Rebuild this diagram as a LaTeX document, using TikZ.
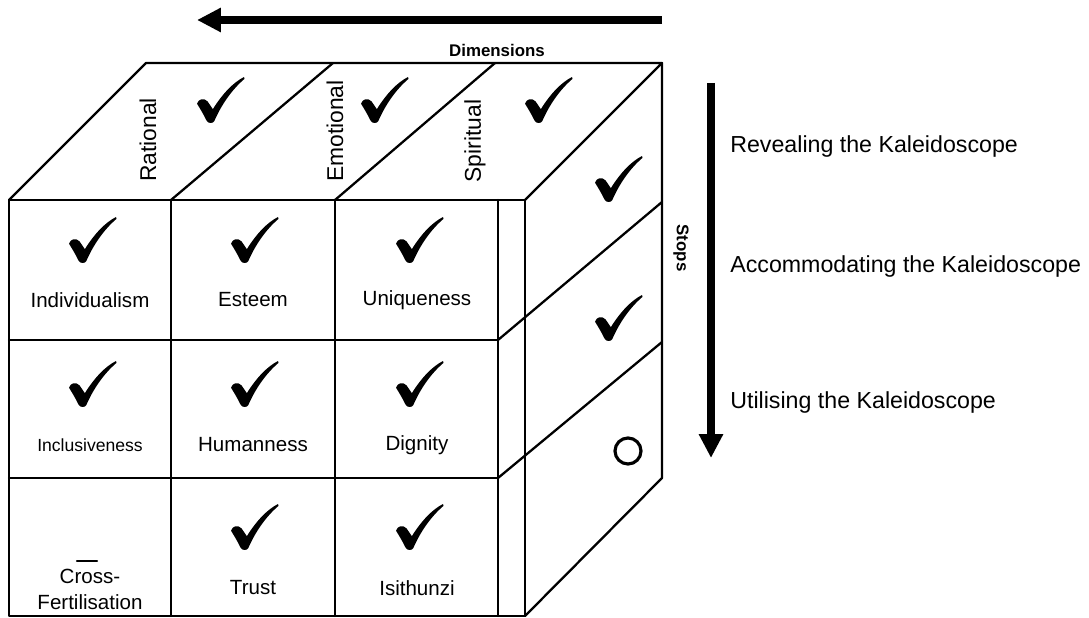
\documentclass[tikz,border=0pt]{standalone}
\usepackage{fontspec}
\setmainfont{Liberation Sans}
\usetikzlibrary{arrows.meta}
\begin{document}
\begin{tikzpicture}[x=0.02cm,y=-0.02cm,line join=round,line cap=round]
	\tikzset{edge/.style={line width=1.3pt},
		cell/.style={font=\fontsize{11.7}{14.8}\selectfont,inner sep=0pt,align=center},
		dimlabel/.style={font=\fontsize{13}{15}\selectfont,inner sep=0pt,rotate=90},
		stage/.style={font=\fontsize{13.2}{15}\selectfont,inner sep=0pt,anchor=west},
		axislabel/.style={font=\bfseries\fontsize{9.6}{11}\selectfont,inner sep=0pt},
		axis/.style={line width=4.5pt,line cap=butt,-{Triangle[length=0.48cm,width=0.46cm]}},
		tick/.pic={\fill[x=0.96cm,y=0.92cm,shift={(-0.5,-0.5)}] (0,0.42) .. controls (0.03,0.52) and (0.14,0.56) .. (0.22,0.47) -- (0.33,0.30) .. controls (0.52,0.62) and (0.75,0.88) .. (0.98,1) .. controls (1,0.99) and (1,0.97) .. (0.99,0.96) .. controls (0.72,0.72) and (0.5,0.38) .. (0.36,0.04) .. controls (0.33,-0.01) and (0.24,-0.02) .. (0.2,0.05) .. controls (0.14,0.18) and (0.06,0.32) .. cycle;}}
	\useasboundingbox (0,0) rectangle (1089,618);
	\draw[edge] (9,200) rectangle (525,616);
	\draw[edge] (171,200)--(171,616) (335,200)--(335,616) (498,200)--(498,616);
	\draw[edge] (9,340)--(498,340) (9,478)--(498,478);
	\draw[edge] (9,200)--(146,63)--(662,63)--(525,200);
	\draw[edge] (171,200)--(333,63) (335,200)--(495,63);
	\draw[edge] (662,63)--(662,478)--(525,616);
	\draw[edge] (498,340)--(662,202) (498,478)--(662,342);
	\node[dimlabel] (rational) at (148,140) {Rational};
	\node[dimlabel] (emotional) at (335,131) {Emotional};
	\node[dimlabel] (spiritual) at (475,141) {Spiritual};
	\node[cell] (individualism) at (90,300) {Individualism};
	\node[cell] (esteem) at (253,300) {Esteem};
	\node[cell] (uniqueness) at (417,300) {Uniqueness};
	\node[cell,font=\fontsize{10}{12}\selectfont] (inclusiveness) at (90,445) {Inclusiveness};
	\node[cell] (humanness) at (253,445) {Humanness};
	\node[cell] (dignity) at (417,445) {Dignity};
	\node[cell] (crossfert) at (90,589) {Cross-\\Fertilisation};
	\node[cell] (trust) at (253,588) {Trust};
	\node[cell] (isithunzi) at (417,588) {Isithunzi};
	\draw[line width=1.2pt] (77,561)--(97,561);
	\foreach \p in {(221,100),(385,100),(549,100),(93,240),(255,240),(420,240),(93,384),(255,384),(420,384),(255,527),(420,527),(619,179),(619,318)}
		\pic at \p {tick};
	\draw[line width=1.8pt] (628,451) circle[radius=13];
	\coordinate (dimstart) at (662,20);
	\coordinate (dimend) at (197,20);
	\draw[axis] (dimstart)--(dimend);
	\node[axislabel] (dimensions) at (497,50) {Dimensions};
	\coordinate (stopstart) at (711,83);
	\coordinate (stopend) at (711,458);
	\draw[axis] (stopstart)--(stopend);
	\node[axislabel,rotate=-90] (stops) at (681,248) {Stops};
	\node[stage] (revealing) at (730,147) {Revealing the Kaleidoscope};
	\node[stage] (accommodating) at (730,267) {Accommodating the Kaleidoscope};
	\node[stage] (utilising) at (730,403) {Utilising the Kaleidoscope};
\end{tikzpicture}
\end{document}
